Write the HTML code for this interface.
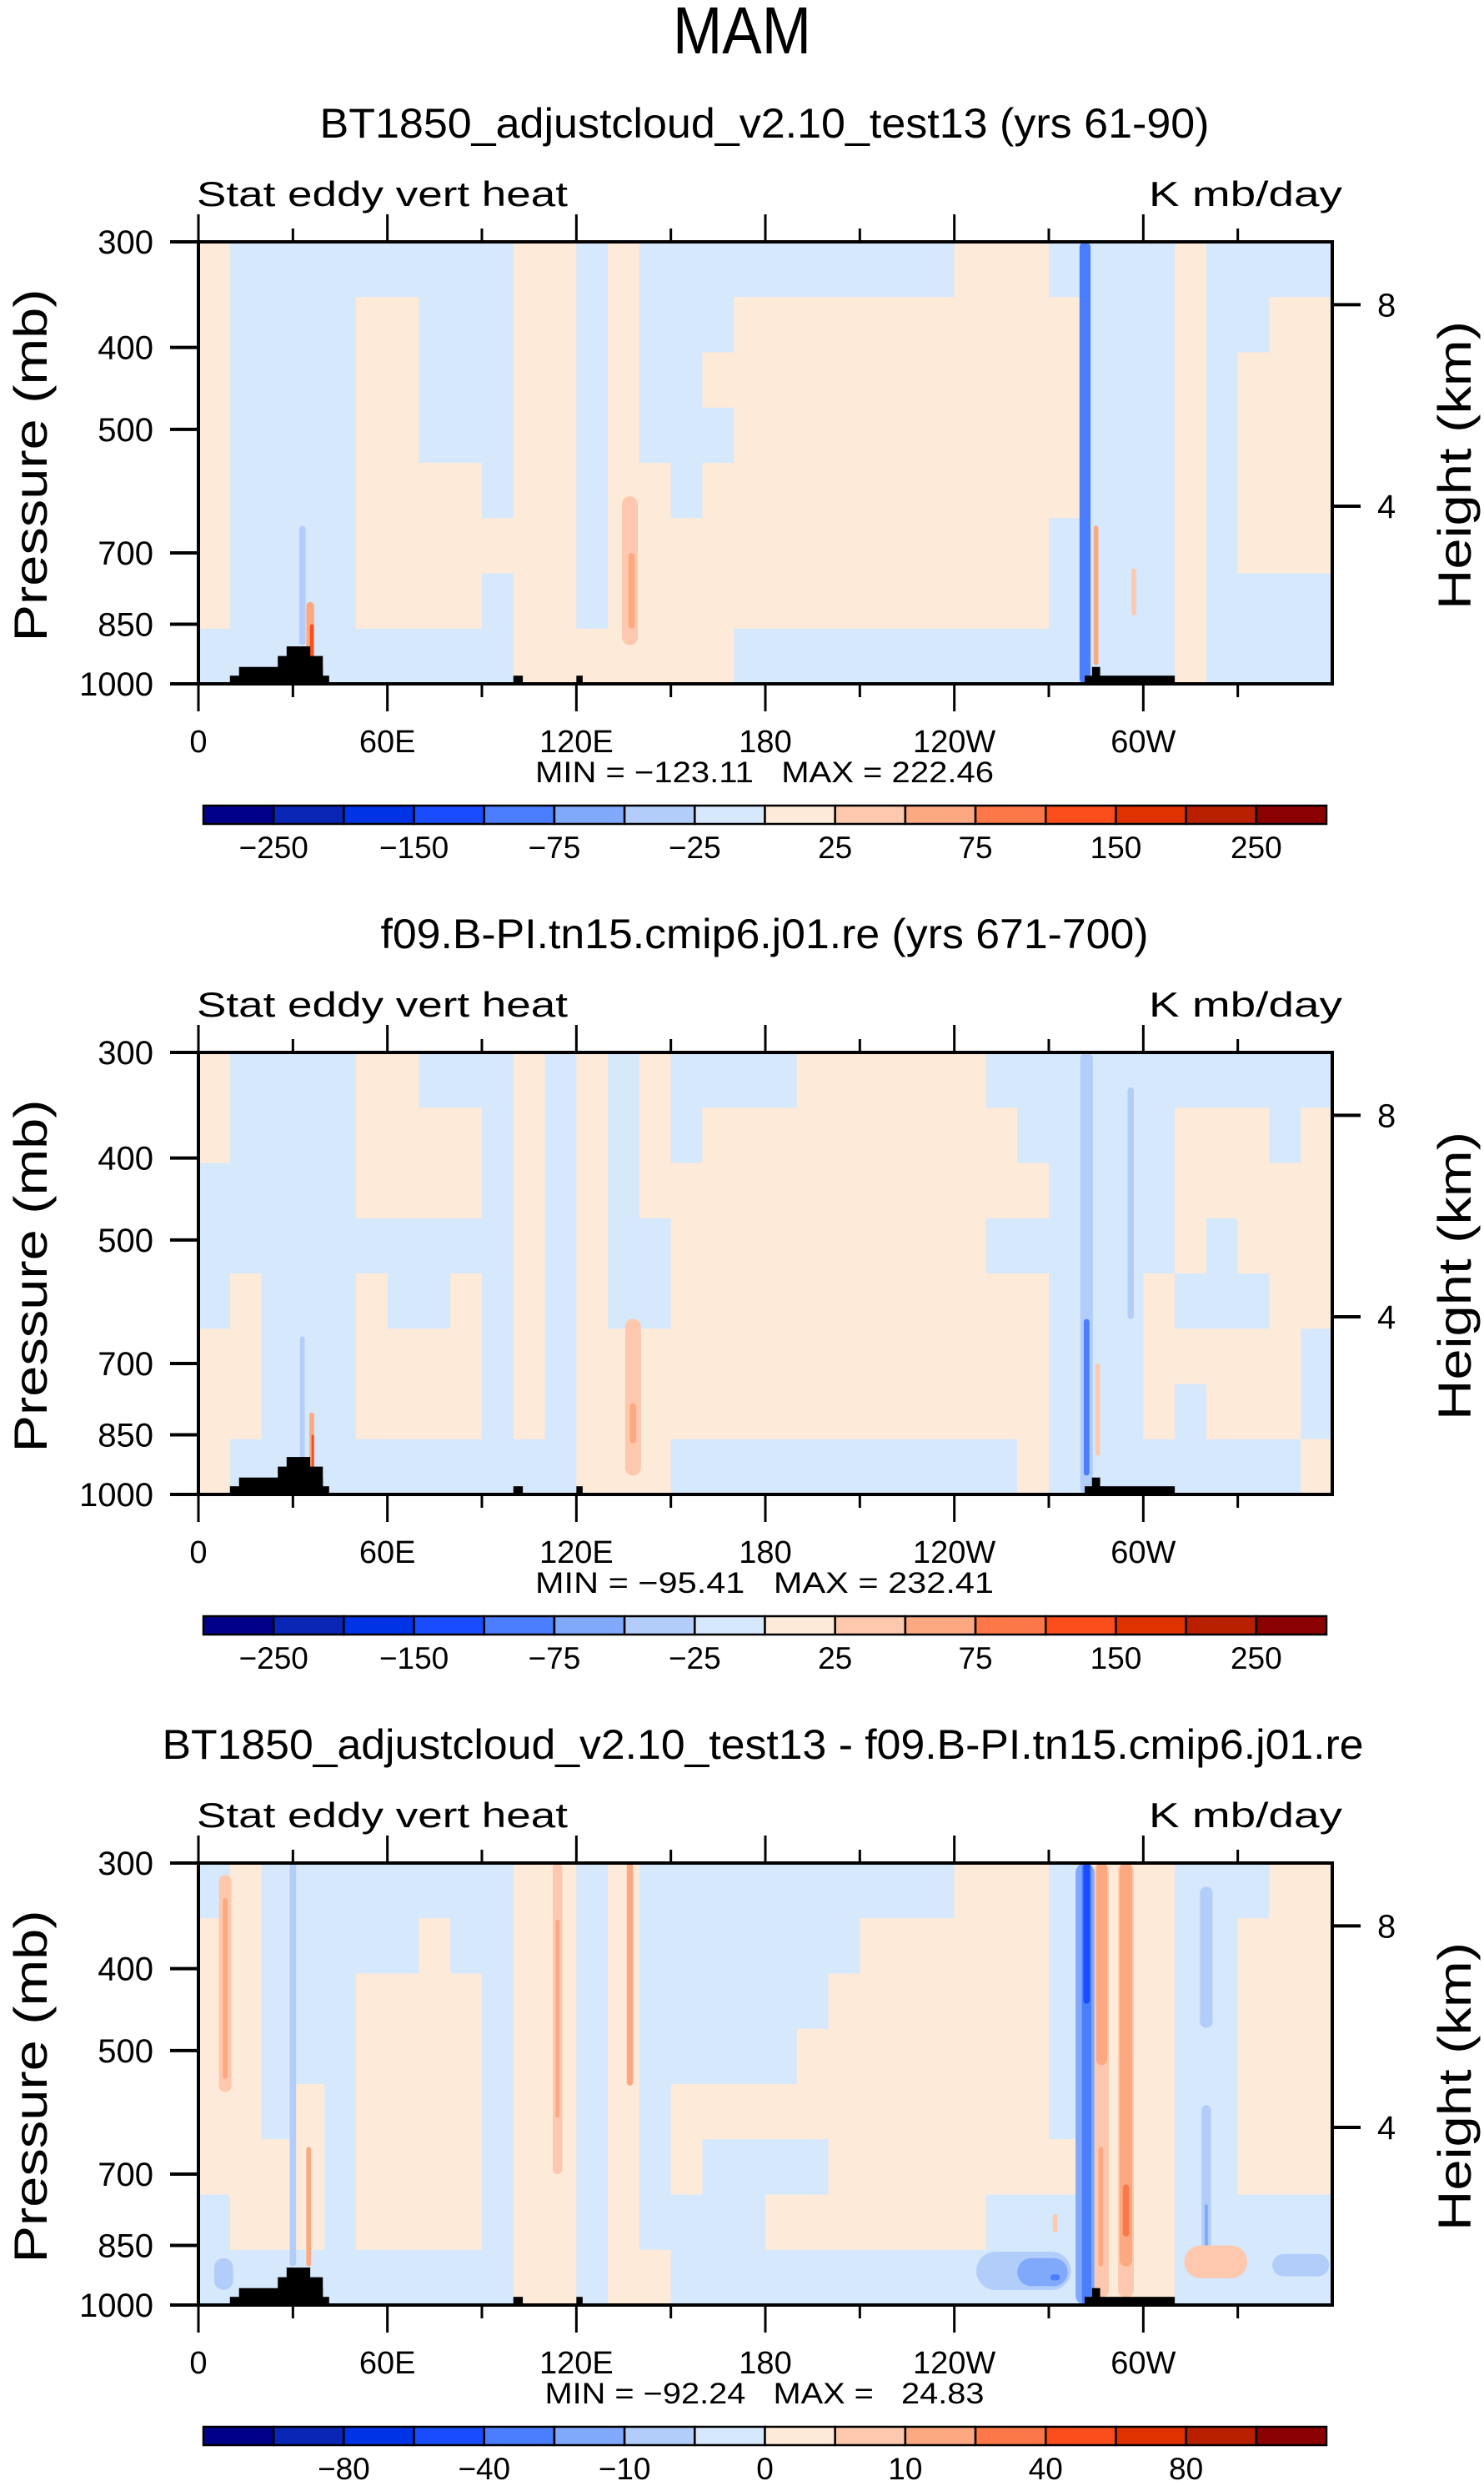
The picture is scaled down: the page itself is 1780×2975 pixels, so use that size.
<!DOCTYPE html>
<html><head><meta charset="utf-8"><style>
html,body{margin:0;padding:0;background:#fff;}
svg{display:block;font-family:"Liberation Sans",sans-serif;}
</style></head><body>
<svg id="fig" width="1780" height="2975" viewBox="0 0 1780 2975" xmlns="http://www.w3.org/2000/svg">
<text x="890" y="64" text-anchor="middle" font-size="80" textLength="166" lengthAdjust="spacingAndGlyphs" fill="#000">MAM</text>
</svg>
<script>
const lonTicks=[0,60,120,180,240,300];
const lonLabels=["0","60E","120E","180","120W","60W"];
const pTicks=[300,400,500,700,850,1000];
const hTicks=[8,4];
const cbColors=["#00008b","#0a26b4","#0033e6","#1a4cff","#4a7eff","#80a8fb","#b2cdfa","#d6e8fc","#feead8","#fdc8ad","#fca982","#fc7848","#fb4e1c","#e03200","#b82000","#8b0000"];
const levels1=[-250,-200,-150,-100,-75,-50,-25,0,25,50,75,100,150,200,250];
const levels3=[-100,-80,-60,-40,-20,-10,-5,0,5,10,20,40,60,80,100];
const cbLabels1=["-250","-150","-75","-25","25","75","150","250"];
const cbLabels3=["-80","-40","-10","0","10","40","80"];
const titles=["BT1850_adjustcloud_v2.10_test13 (yrs 61-90)","f09.B-PI.tn15.cmip6.j01.re (yrs 671-700)","BT1850_adjustcloud_v2.10_test13 - f09.B-PI.tn15.cmip6.j01.re"];
const minMax=["MIN = \u2212123.11   MAX = 222.46","MIN = \u221295.41   MAX = 232.41","MIN = \u221292.24   MAX =   24.83"];
// grids: 36 columns (10 deg) x 8 log-pressure rows (top->bottom)
const A=-10,B=10;
const grid1=[[B,B,B,B,B,B,B,A],[A,A,A,A,A,A,A,A],[A,A,A,A,A,A,A,A],[A,A,A,A,A,A,A,A],[A,A,A,A,A,A,A,A],[A,B,B,B,B,B,B,A],[A,B,B,B,B,B,B,A],[A,A,A,A,B,B,B,A],[A,A,A,A,B,B,B,A],[A,A,A,A,A,B,A,A],[B,B,B,B,B,B,B,B],[B,B,B,B,B,B,B,B],[A,A,A,A,A,A,A,B],[B,B,B,B,B,B,B,B],[A,A,A,A,B,B,B,B],[A,A,A,A,A,B,B,B],[A,A,B,A,B,B,B,B],[A,B,B,B,B,B,B,A],[A,B,B,B,B,B,B,A],[A,B,B,B,B,B,B,A],[A,B,B,B,B,B,B,A],[A,B,B,B,B,B,B,A],[A,B,B,B,B,B,B,A],[A,B,B,B,B,B,B,A],[B,B,B,B,B,B,B,A],[B,B,B,B,B,B,B,A],[B,B,B,B,B,B,B,A],[A,B,B,B,B,A,A,A],[A,A,A,A,A,A,A,A],[A,A,A,A,A,A,A,A],[A,A,A,A,A,A,A,A],[B,B,B,B,B,B,B,B],[A,A,A,A,A,A,A,A],[A,A,B,B,B,B,A,A],[A,B,B,B,B,B,A,A],[A,B,B,B,B,B,A,A]];
const grid2=[[B,B,A,A,A,B,B,B],[A,A,A,A,B,B,B,A],[A,A,A,A,A,A,A,A],[A,A,A,A,A,A,A,A],[A,A,A,A,A,A,A,A],[B,B,B,A,B,B,B,A],[B,B,B,A,A,B,B,A],[A,B,B,A,A,B,B,A],[A,B,B,A,B,B,B,A],[A,A,A,A,A,A,A,A],[B,B,B,B,B,B,B,A],[A,A,A,A,A,A,A,A],[B,B,B,B,B,B,B,B],[A,A,A,A,A,B,B,B],[B,B,B,A,A,B,B,B],[A,A,B,B,B,B,B,A],[A,B,B,B,B,B,B,A],[A,B,B,B,B,B,B,A],[A,B,B,B,B,B,B,A],[B,B,B,B,B,B,B,A],[B,B,B,B,B,B,B,A],[B,B,B,B,B,B,B,A],[B,B,B,B,B,B,B,A],[B,B,B,B,B,B,B,A],[B,B,B,B,B,B,B,A],[A,B,B,A,B,B,B,A],[A,A,B,A,B,B,B,B],[A,A,A,A,A,A,A,A],[A,A,A,A,A,A,A,A],[A,A,A,A,A,A,A,A],[A,A,A,A,B,B,B,A],[A,B,B,B,A,B,A,A],[A,B,B,A,A,B,B,A],[A,B,B,B,A,B,B,A],[A,A,B,B,B,B,B,A],[A,B,B,B,B,A,A,B]];
const C=-1,D=2;
const grid3=[[C,D,D,D,D,D,C,C],[D,D,D,D,D,D,D,C],[C,C,C,C,C,D,D,C],[C,C,C,C,D,D,D,C],[C,C,C,C,C,C,C,C],[C,C,D,D,D,D,D,C],[C,C,D,D,D,D,D,C],[C,D,D,D,D,D,D,C],[C,C,D,D,D,D,D,C],[C,C,C,C,C,C,C,C],[D,D,D,D,D,D,D,D],[D,D,D,D,D,D,D,D],[C,C,C,C,C,C,C,C],[D,D,D,D,D,D,D,D],[C,C,C,C,C,C,C,D],[C,C,C,C,D,D,C,C],[C,C,C,C,D,C,C,C],[C,C,C,C,D,C,C,C],[C,C,C,C,D,C,D,C],[C,C,C,D,D,C,D,C],[C,C,D,D,D,D,D,C],[C,D,D,D,D,D,D,C],[C,D,D,D,D,D,D,C],[C,D,D,D,D,D,D,C],[D,D,D,D,D,D,D,C],[D,D,D,D,D,D,C,C],[D,D,D,D,D,D,C,C],[C,C,C,C,C,D,C,C],[D,D,D,D,D,D,D,D],[D,D,D,D,D,D,D,D],[D,D,D,D,D,D,D,D],[C,C,C,C,C,C,C,C],[C,C,C,C,C,C,C,C],[C,D,D,D,D,D,C,C],[D,D,D,D,D,D,C,C],[D,D,D,D,D,D,C,C]];
// features: [lon, widthDeg, pTop, pBottom, value]
const feat1=[[281.5,3.5,300,1000,-80],[33,2,650,900,-40],[35.5,2.5,800,970,60],[36,1.2,850,950,120],[137,5,600,900,30],[137.5,2,700,860,60],[285,1.5,650,950,60],[297,1.5,730,830,30]];
const feat2=[[282,4,300,1000,-30],[282,1.8,620,950,-80],[296,2,330,620,-30],[33,1.5,650,1000,-30],[36,1.5,800,980,60],[36.3,0.8,850,970,120],[138,5,620,950,30],[138,2,780,870,60],[285.5,1.5,700,900,30]];
const feat3=[[8.5,4,310,560,7],[8.5,1.5,330,540,15],[30,2,300,900,-7],[35,1.5,650,900,15],[114,3,300,700,7],[114,1.2,350,600,15],[137,2,300,550,15],[281.5,6,300,1000,-15],[282,3,300,1000,-30],[282,2,300,440,-50],[286.8,4.5,300,980,7],[286.8,3.5,300,520,15],[286.5,1.5,650,900,15],[294.5,5,300,980,7],[294.5,4,300,900,15],[294.5,2,720,830,30],[320,4,320,470,-7],[320,3,580,880,-7],[320,1,760,860,-15],[262,30,865,960,-7],[268,16,880,950,-15],[272,3,920,935,-30],[323,20,850,930,7],[350,18,870,925,-7],[8,6,880,960,-7],[272,1.5,780,820,7]];
// topography: [lonStart, lonEnd, pTop]
const topo=[[10,41.5,978],[12.9,39.5,955],[25.2,39.5,927],[28,35.5,903],[100,103,978],[120,122,978],[281.4,310,978],[283.7,286.3,955]];

const NS="http://www.w3.org/2000/svg";
const svg=document.getElementById('fig');
const X0=238,X1=1598,PH=530;
function el(tag,attrs,parent){const e=document.createElementNS(NS,tag);for(const k in attrs)e.setAttribute(k,attrs[k]);(parent||svg).appendChild(e);return e;}
function xs(lon){return X0+(X1-X0)*lon/360;}
function colorFor(v,levels){let i=0;while(i<levels.length&&v>=levels[i])i++;return cbColors[i];}

function panel(k,grid,feat,levels,cbLabels,labelStart){
  const top=290+972*k;
  const ys=p=>top+PH*Math.log(p/300)/Math.log(1000/300);
  const g=el('g',{});
  
  
  const t=el('text',{x:(k==2?915:917),y:165+972*k,'text-anchor':'middle','font-size':50,textLength:[1067,921,1441][k],lengthAdjust:'spacingAndGlyphs'},g);
  t.textContent=titles[k];
  
  
  const s1=el('text',{x:236,y:top-43,'font-size':42,textLength:445,lengthAdjust:'spacingAndGlyphs'},g);
  s1.textContent='Stat eddy vert heat';
  
  
  const s2=el('text',{x:1378,y:top-43,'font-size':42,textLength:232,lengthAdjust:'spacingAndGlyphs'},g);
  s2.textContent='K mb/day';
  
  
  const cid='clip'+k;
  const cp=el('clipPath',{id:cid},g);el('rect',{x:X0,y:top,width:X1-X0,height:PH},cp);
  const field=el('g',{'clip-path':'url(#'+cid+')'},g);
  
  
  const nr=grid[0].length;
  for(let c=0;c<grid.length;c++){for(let r=0;r<nr;r++){
    const pA=300*Math.pow(1000/300,r/nr),pB=300*Math.pow(1000/300,(r+1)/nr);
    const x=xs(c*10),y=ys(pA);
    const cell=el('rect',{x:x,y:y,width:xs(c*10+10)-x+0.6,height:ys(pB)-y+0.6,fill:colorFor(grid[c][r],levels)},field);
    
    
  }}
  for(const f of feat){
    const w=xs(f[0]+f[1]/2)-xs(f[0]-f[1]/2);
    const y=ys(f[2]),h=ys(f[3])-y;
    const r=el('rect',{x:xs(f[0]-f[1]/2),y:y,width:w,height:h,rx:Math.min(w/2,h/2),fill:colorFor(f[4],levels)},field);
    
    
  }
  for(const t2 of topo){
    const y=ys(t2[2]);
    const r=el('rect',{x:xs(t2[0]),y:y,width:xs(t2[1])-xs(t2[0]),height:top+PH-y,fill:'#000'},field);
    
    
  }
  const fr=el('rect',{x:X0,y:top,width:X1-X0,height:PH,fill:'none',stroke:'#000','stroke-width':4},g);
  
  
  for(let lon=0;lon<360;lon+=30){
    const len=lon%60==0?33:16,x=xs(lon);
    el('line',{x1:x,x2:x,y1:top-len,y2:top,stroke:'#000','stroke-width':3},g);
    el('line',{x1:x,x2:x,y1:top+PH,y2:top+PH+len,stroke:'#000','stroke-width':3},g);
  }
  lonTicks.forEach((lon,i)=>{
    const t3=el('text',{x:xs(lon),y:top+PH+82,'text-anchor':'middle','font-size':38},g);
    t3.textContent=lonLabels[i];
    
    
  });
  pTicks.forEach(p=>{
    const y=ys(p);
    el('line',{x1:X0-34,x2:X0,y1:y,y2:y,stroke:'#000','stroke-width':4},g);
    const t4=el('text',{x:184,y:y+14,'text-anchor':'end','font-size':40},g);
    t4.textContent=String(p);
    
    
  });
  hTicks.forEach(z=>{
    const p=1013.25*Math.pow(1-2.2558e-5*z*1000,5.2559);const y=ys(p);
    el('line',{x1:X1,x2:X1+34,y1:y,y2:y,stroke:'#000','stroke-width':4},g);
    const t5=el('text',{x:1652,y:y+14,'font-size':40},g);
    t5.textContent=String(z);
    
    
  });
  const yl=el('text',{x:0,y:0,'text-anchor':'middle','font-size':56,textLength:423,lengthAdjust:'spacingAndGlyphs',transform:'translate(56,'+(top+268)+') rotate(-90)'},g);
  yl.textContent='Pressure  (mb)';
  
  
  const yr=el('text',{x:0,y:0,'text-anchor':'middle','font-size':56,textLength:346,lengthAdjust:'spacingAndGlyphs',transform:'translate(1764,'+(top+268)+') rotate(-90)'},g);
  yr.textContent='Height  (km)';
  
  
  const mm=el('text',{x:917,y:top+648,'text-anchor':'middle','font-size':35,textLength:(k==2?527:550),lengthAdjust:'spacingAndGlyphs',style:'white-space:pre'},g);
  mm.textContent=minMax[k];
  
  
  const cbx0=244,cbx1=1591,cby=top+676,bw=(cbx1-cbx0)/16;
  for(let i=0;i<16;i++){
    const b=el('rect',{x:cbx0+i*bw,y:cby,width:bw,height:22,fill:cbColors[i],stroke:'#000','stroke-width':2.5},g);
    
    
  }
  cbLabels.forEach((lab,i)=>{
    const bi=labelStart+2*i;
    const t6=el('text',{x:cbx0+bi*bw,y:cby+63,'text-anchor':'middle','font-size':37},g);
    t6.textContent=lab.replace('-','\u2212');
    
    
  });
}
panel(0,grid1,feat1,levels1,cbLabels1,1);
panel(1,grid2,feat2,levels1,cbLabels1,1);
panel(2,grid3,feat3,levels3,cbLabels3,2);
</script>
</body></html>
